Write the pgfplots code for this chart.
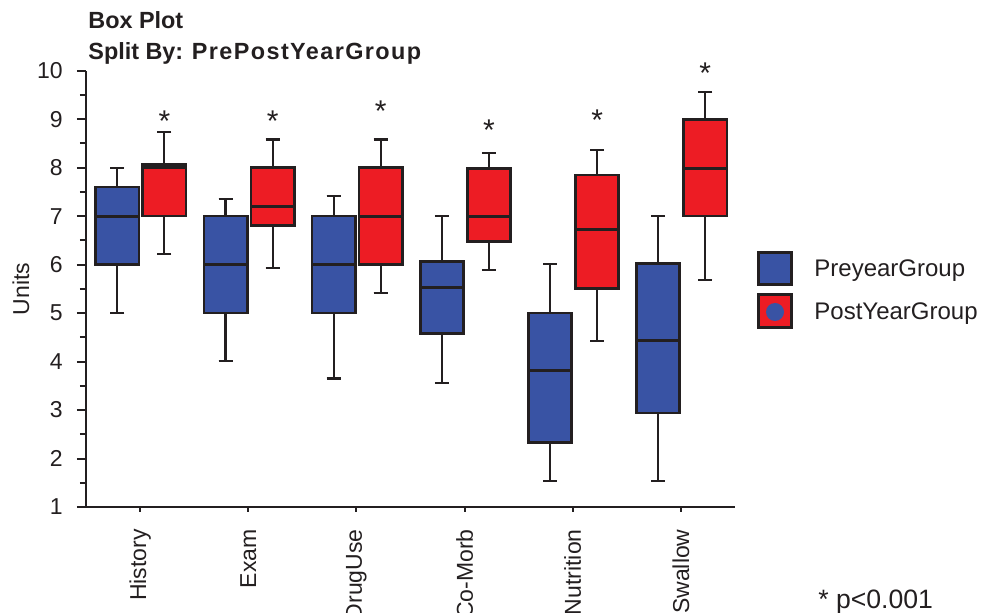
\documentclass[border=0pt]{standalone}
\usepackage{fontspec}
\setmainfont{Liberation Sans}
\usepackage{pgfplots}
\pgfplotsset{compat=1.18}
\usepgfplotslibrary{statistics}

\definecolor{preblue}{HTML}{3953A4}
\definecolor{postred}{HTML}{ED1C24}
\definecolor{ink}{HTML}{231F20}

\newcommand{\lblfont}{\fontsize{11.5}{13}\selectfont}

% one prepared box: colour, position, lower whisker, lower quartile, median, upper quartile, upper whisker
\newcommand{\onebox}[7]{%
  \addplot[boxplot prepared={draw position=#2, lower whisker=#3,
      lower quartile=#4, median=#5, upper quartile=#6, upper whisker=#7},
    fill=#1, draw=ink] coordinates {};}

\begin{document}
\begin{tikzpicture}
\begin{axis}[
    at={(43pt,-253.5pt)}, anchor=south west,
    scale only axis, width=324.5pt, height=218.15pt,
    xmin=-0.5, xmax=5.5, ymin=1, ymax=10,
    axis lines=left,
    axis line style={-, line width=1pt, draw=ink},
    xtick={0,...,5},
    xticklabels={History,Exam,DrugUse,Co-Morb,Nutrition,Swallow},
    ytick={1,...,10},
    minor ytick={1.5,2.5,...,9.5},
    tick align=outside,
    major tick length=4.5pt, minor tick length=3pt,
    tick style={line width=1pt, draw=ink},
    xtick style={/pgfplots/major tick length=2.5pt},
    /pgf/number format/assume math mode=true,
    x tick label style={rotate=90, anchor=east, inner sep=0pt, font=\lblfont, text=ink},
    y tick label style={anchor=east, inner sep=0pt, font=\lblfont, text=ink},
    xticklabel shift=6.5pt,
    yticklabel shift=7pt,
    ylabel={Units},
    ylabel style={at={(axis description cs:-0.1002,0.5)}, anchor=center,
      font=\lblfont, text=ink},
    clip=false,
    boxplot/draw direction=y,
    boxplot/box extend=0.40,
    boxplot/whisker extend=0.13,
    boxplot/every box/.style={line width=1.35pt},
    boxplot/every median/.style={line width=1.5pt},
    boxplot/every whisker/.style={line width=1.05pt},
]
% PreyearGroup
\onebox{preblue}{-0.21}{5.00}{6.00}{7.00}{7.60}{8.00}
\onebox{preblue}{0.79}{4.02}{5.00}{6.00}{7.00}{7.36}
\onebox{preblue}{1.79}{3.65}{5.00}{6.00}{7.00}{7.42}
\onebox{preblue}{2.79}{3.55}{4.58}{5.52}{6.07}{7.00}
\onebox{preblue}{3.79}{1.54}{2.33}{3.82}{5.00}{6.02}
\onebox{preblue}{4.79}{1.54}{2.94}{4.43}{6.02}{7.00}
% PostYearGroup
\onebox{postred}{0.225}{6.21}{7.00}{8.00}{8.07}{8.73}
\onebox{postred}{1.225}{5.93}{6.81}{7.19}{8.00}{8.58}
\onebox{postred}{2.225}{5.42}{6.00}{7.00}{8.00}{8.58}
\onebox{postred}{3.225}{5.89}{6.48}{7.00}{7.98}{8.30}
\onebox{postred}{4.225}{4.43}{5.51}{6.73}{7.85}{8.36}
\onebox{postred}{5.225}{5.69}{7.00}{7.98}{9.00}{9.56}
% significance stars
\foreach \sx/\sy in {0.225/8.74, 1.225/8.75, 2.225/8.96, 3.225/8.56, 4.225/8.76, 5.225/9.73}{
  \edef\tmp{\noexpand\node[anchor=base, inner sep=0pt, text=ink,
    font=\noexpand\fontsize{15}{17}\noexpand\selectfont] at (axis cs:\sx,\sy) {*};}
  \tmp
}
\end{axis}

\begin{scope}[x=0.5pt, y=-0.5pt]
  % titles
  \node[anchor=base west, inner sep=0pt, text=ink,
    font=\bfseries\fontsize{11.7}{14}\selectfont] at (88,28.3) {Box Plot};
  \node[anchor=base west, inner sep=0pt, text=ink,
    font=\bfseries\fontsize{11.7}{14}\selectfont] at (88,60)
    {Split By: {\addfontfeature{LetterSpace=6}PrePostYearGroup}};
  % legend
  \draw[line width=1.6pt, draw=ink, fill=preblue] (758.6,252.6) rectangle (791.4,284.4);
  \draw[line width=1.6pt, draw=ink, fill=postred] (758.6,294.6) rectangle (791.4,327.4);
  \fill[preblue] (775,312) circle[radius=9];
  \node[anchor=base west, inner sep=0pt, text=ink,
    font=\fontsize{12}{14}\selectfont] at (814,277) {PreyearGroup};
  \node[anchor=base west, inner sep=0pt, text=ink,
    font=\fontsize{12}{14}\selectfont] at (814,320) {PostYearGroup};
  \node[anchor=base west, inner sep=0pt, text=ink,
    font=\fontsize{13.3}{15}\selectfont] at (818,609) {* p<0.001};
  \pgfresetboundingbox
  \path[use as bounding box] (0,0) rectangle (984,613);
\end{scope}
\end{tikzpicture}
\end{document}
